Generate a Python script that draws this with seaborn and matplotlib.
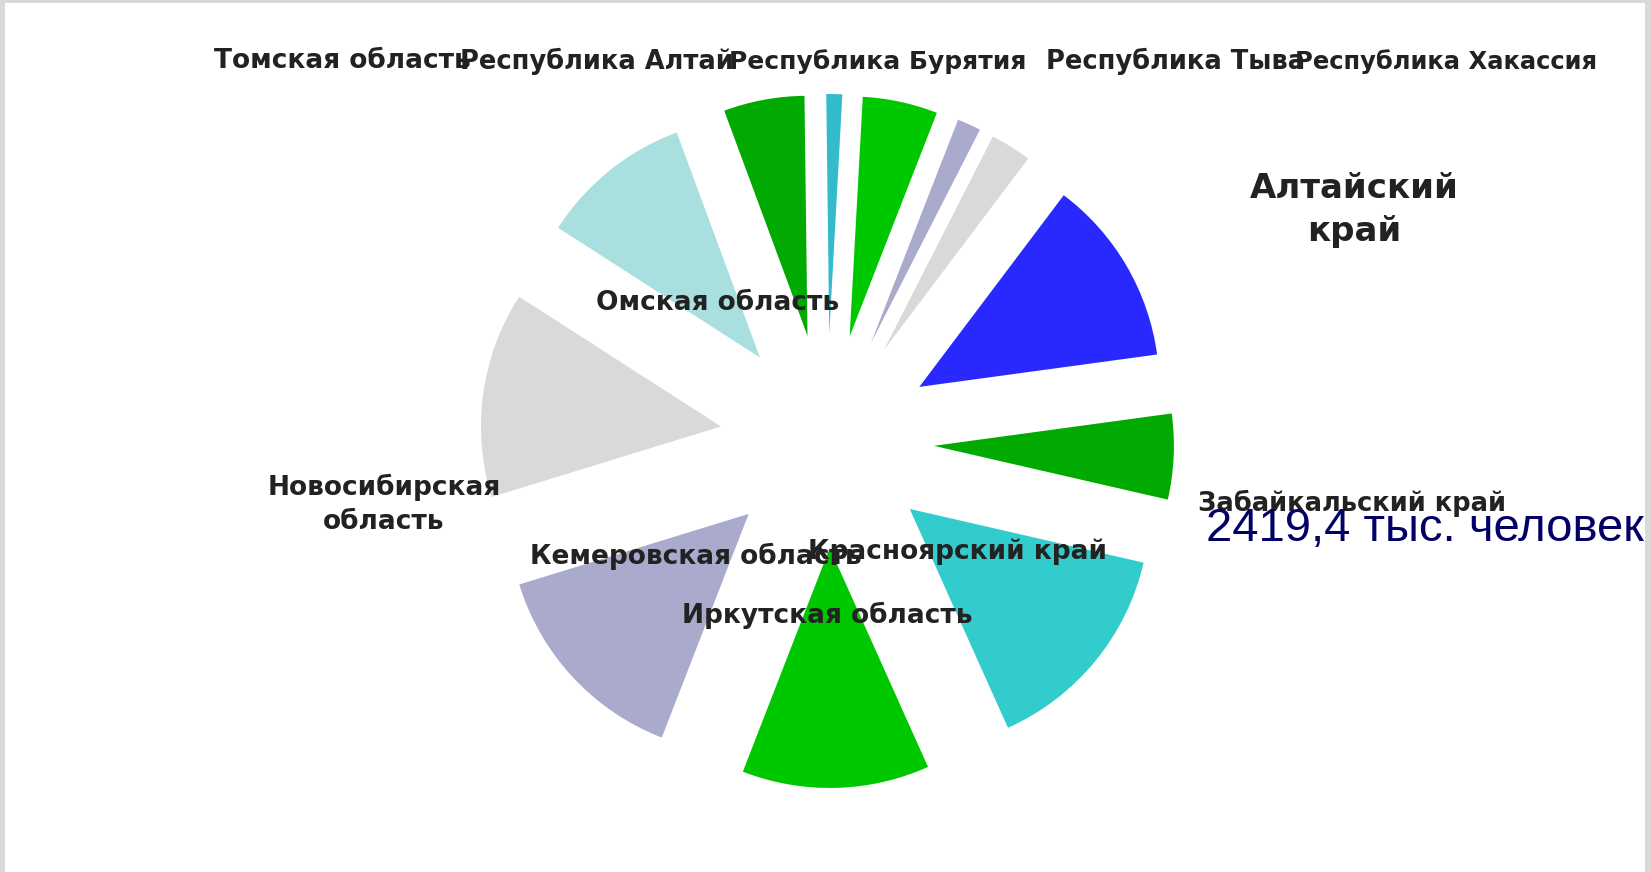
import matplotlib
matplotlib.use("Agg")
import matplotlib.pyplot as plt
import matplotlib.patches as mpatches
import seaborn as sns

## DATA (population, thousand people)
regions = ["Алтайский край", "Забайкальский край", "Красноярский край",
           "Иркутская область", "Кемеровская область", "Новосибирская область",
           "Омская область", "Томская область", "Республика Алтай",
           "Республика Бурятия", "Республика Тыва", "Республика Хакассия"]
population = [2419.4, 1107, 2828, 2428, 2763, 2665, 1977, 1047, 206, 972, 307, 532]
note = "2419,4 тыс. человек"

colors = ["#2929ff", "#00aa00", "#33cccc", "#00c800", "#aaaacc", "#d9d9d9",
          "#aadfe0", "#00aa00", "#33bbcc", "#00c800", "#aaaacc", "#d9d9d9"]

## LABEL LAYOUT (pixel positions from top-left, font size)
label_text = ["Алтайский\nкрай", "Забайкальский край", "Красноярский край",
              "Иркутская область", "Кемеровская область", "Новосибирская\nобласть",
              "Омская область", "Томская область", "Республика Алтай",
              "Республика Бурятия", "Республика Тыва", "Республика Хакассия"]
label_xy = [(1354, 210), (1352, 503), (958, 552), (827, 615), (696, 556), (384, 504),
            (718, 303), (342, 61), (597, 61), (878, 62), (1176, 61), (1446, 62)]
label_size = [24.5, 18.5, 19, 19, 19, 19, 19, 19, 18.5, 18, 18.5, 17.5]

W, H = 1651, 872
sns.set_theme(style="white")
plt.rcParams["font.family"] = ["DejaVu Sans"]

fig = plt.figure(figsize=(W / 100, H / 100), dpi=100)
ax = fig.add_axes([0, 0, 1, 1])

ax.pie(population, colors=colors, startangle=53, counterclock=False,
       center=(827, H - 441), radius=240, explode=[107] * len(population),
       wedgeprops=dict(linewidth=0), frame=True)
ax.set_xlim(0, W)
ax.set_ylim(0, H)
ax.set_aspect("equal")
ax.axis("off")

for txt, (x, y), s in zip(label_text, label_xy, label_size):
    ax.text(x, H - y, txt, ha="center", va="center", fontsize=s,
            fontweight="bold", color="#222222", linespacing=1.4)

ax.text(1206, H - 541, note, ha="left", va="baseline", fontsize=34,
        color="#000066", family="Liberation Sans")

# grey frame strips
fig.add_artist(mpatches.Rectangle((0, 0), 5 / W, 1, transform=fig.transFigure,
                                  color="#d9d9d9", lw=0))
fig.add_artist(mpatches.Rectangle((1 - 6 / W, 0), 6 / W, 1, transform=fig.transFigure,
                                  color="#d9d9d9", lw=0))
fig.add_artist(mpatches.Rectangle((0, 1 - 3 / H), 1, 3 / H, transform=fig.transFigure,
                                  color="#d9d9d9", lw=0))

fig.savefig("out.png", dpi=100)
